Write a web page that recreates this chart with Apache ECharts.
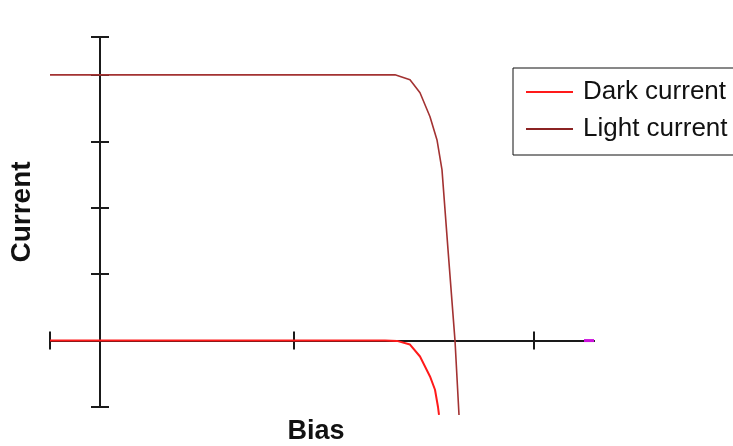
<!DOCTYPE html>
<html>
<head>
<meta charset="utf-8">
<script src="https://cdn.jsdelivr.net/npm/echarts@6/dist/echarts.min.js"></script>
<style>
  html, body { margin: 0; padding: 0; background: #fff; }
  #chart { width: 733px; height: 446px; }
</style>
</head>
<body>
<div id="chart"></div>
<script>
// Bias sweep (arbitrary units) and the two I-V curves of the cell
const biasDark  = [-0.2, 1.14, 1.188, 1.24, 1.28, 1.32, 1.34, 1.352, 1.356];
const darkCurrent = [0, 0, -0.005, -0.06, -0.24, -0.54, -0.74, -1.0, -1.12];

const biasLight = [-0.2, 1.18, 1.188, 1.24, 1.28, 1.32, 1.348, 1.368, 1.392, 1.42, 1.436];
const lightCurrent = [4.0, 4.0, 3.99, 3.925, 3.73, 3.37, 3.02, 2.57, 1.37, 0, -1.12];

// short marker at the far end of the bias axis
const endBias = [1.936, 1.976];
const endLevel = [0, 0];

// tick positions on both axes
const xTicks = [-0.2, 0.776, 1.736];
const yTicks = [-1, 0, 1, 2, 3, 4, 4.57];

const seriesNames = ['Dark current', 'Light current'];

const pairs = (xs, ys) => xs.map((x, i) => [x, ys[i]]);

const AXIS = '#1a1a1a';
const FONT = '"Liberation Sans", Arial, sans-serif';

function xAxisDef(pos) {
  return {
    type: 'value', position: pos, min: -0.2, max: 1.976,
    axisLine: { show: true, onZero: true, lineStyle: { color: AXIS, width: 2 } },
    axisTick: { show: true, length: 9, customValues: xTicks, lineStyle: { color: AXIS, width: 2 } },
    axisLabel: { show: false }, splitLine: { show: false }
  };
}
function yAxisDef(pos) {
  return {
    type: 'value', position: pos, min: -1, max: 4.57,
    axisLine: { show: true, onZero: true, lineStyle: { color: AXIS, width: 2 } },
    axisTick: { show: true, length: 9, customValues: yTicks, lineStyle: { color: AXIS, width: 2 } },
    axisLabel: { show: false }, splitLine: { show: false }
  };
}

const chart = echarts.init(document.getElementById('chart'), null, { renderer: 'canvas' });
chart.setOption({
  animation: false,
  backgroundColor: '#fff',
  grid: { left: 50, right: 139, top: 37, bottom: 39 },
  xAxis: [xAxisDef('bottom'), xAxisDef('top')],
  yAxis: [yAxisDef('left'), yAxisDef('right')],
  legend: {
    data: seriesNames,
    orient: 'vertical',
    left: 513, top: 68,
    padding: [11, 20, 13, 13],
    borderColor: '#111', borderWidth: 1,
    icon: 'rect', itemWidth: 47, itemHeight: 2, itemGap: 11,
    textStyle: { fontFamily: FONT, fontSize: 26, color: '#111', lineHeight: 26, padding: [0, 0, 0, 5] }
  },
  graphic: [
    { type: 'text', x: 316, y: 432, style: { text: 'Bias', font: 'bold 27px ' + FONT, fill: '#111', align: 'center', verticalAlign: 'middle' } },
    { type: 'text', x: 22, y: 212, rotation: Math.PI / 2, style: { text: 'Current', font: 'bold 28px ' + FONT, fill: '#111', align: 'center', verticalAlign: 'middle' } }
  ],
  series: [
    {
      name: seriesNames[0], type: 'line', symbol: 'none', clip: false, z: 5,
      data: pairs(biasDark, darkCurrent),
      lineStyle: { color: '#ff1a1a', width: 2 }, itemStyle: { color: '#ff1a1a' }
    },
    {
      name: seriesNames[1], type: 'line', symbol: 'none', clip: false, z: 6,
      data: pairs(biasLight, lightCurrent),
      lineStyle: { color: '#a33232', width: 1.6 }, itemStyle: { color: '#8b2323' }
    },
    {
      name: 'end', type: 'line', symbol: 'none', clip: false, z: 7,
      data: pairs(endBias, endLevel),
      lineStyle: { color: '#cc10dd', width: 3 }
    }
  ]
});
</script>
</body>
</html>
